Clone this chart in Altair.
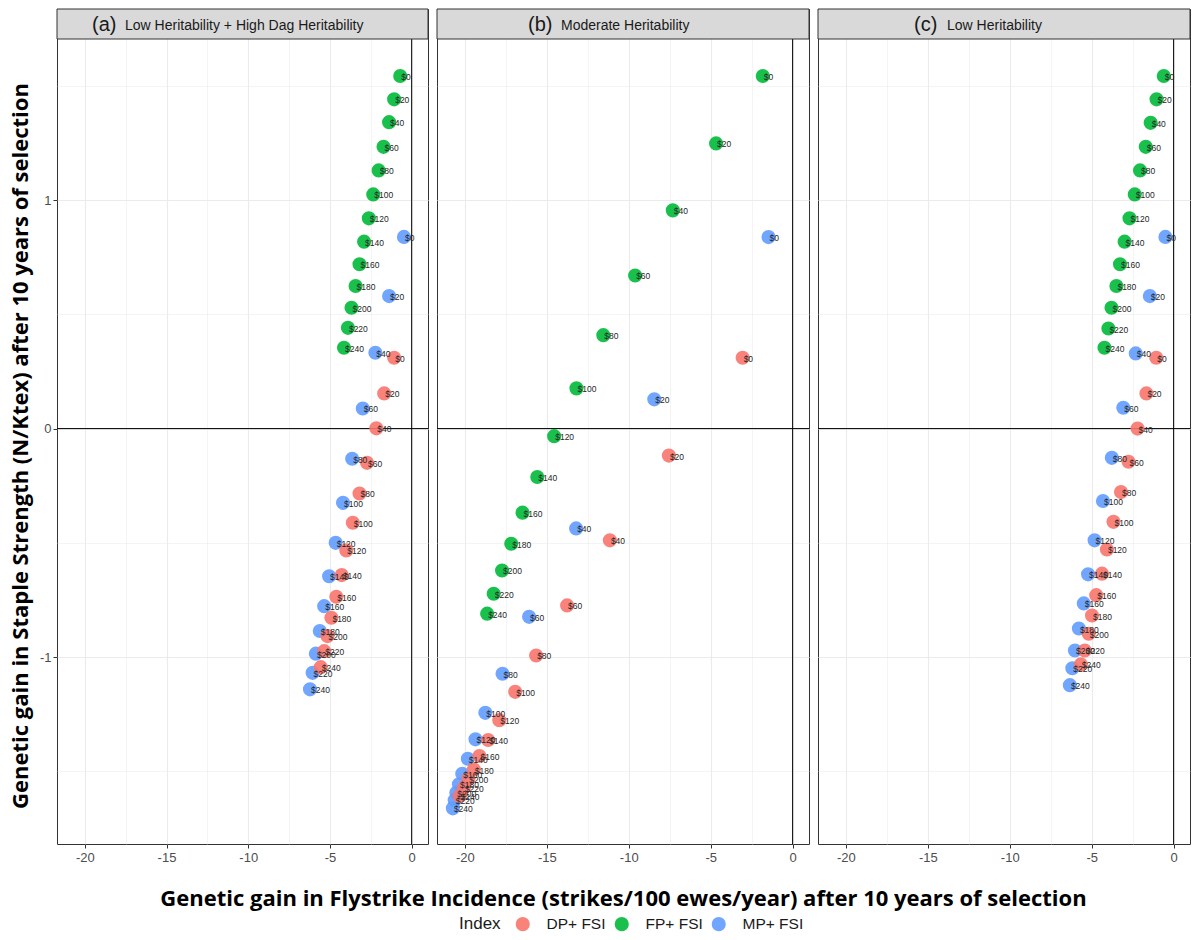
import altair as alt
import pandas as pd

costs = ["$0", "$20", "$40", "$60", "$80", "$100", "$120", "$140", "$160", "$180", "$200", "$220", "$240"]
index_names = ["DP+ FSI", "FP+ FSI", "MP+ FSI"]
index_colors = ["#F8766D", "#00BA38", "#619CFF"]

panel_tags = ["(a)", "(b)", "(c)"]
panel_names = ["Low Heritability + High Dag Heritability", "Moderate Heritability", "Low Heritability"]

# Panel (a)
a_dp_x = [-1.07, -1.68, -2.16, -2.73, -3.19, -3.60, -4.00, -4.28, -4.61, -4.91, -5.15, -5.35, -5.56]
a_dp_y = [0.310, 0.154, 0.001, -0.150, -0.284, -0.412, -0.533, -0.641, -0.736, -0.828, -0.908, -0.974, -1.044]
a_fp_x = [-0.70, -1.07, -1.38, -1.72, -2.02, -2.35, -2.62, -2.91, -3.19, -3.43, -3.68, -3.90, -4.14]
a_fp_y = [1.543, 1.441, 1.341, 1.233, 1.130, 1.025, 0.920, 0.818, 0.719, 0.624, 0.529, 0.441, 0.354]
a_mp_x = [-0.47, -1.38, -2.22, -2.99, -3.64, -4.20, -4.65, -5.05, -5.35, -5.62, -5.86, -6.06, -6.22]
a_mp_y = [0.839, 0.580, 0.332, 0.088, -0.132, -0.325, -0.500, -0.646, -0.777, -0.886, -0.985, -1.069, -1.141]

# Panel (b)
b_dp_x = [-3.05, -7.55, -11.15, -13.76, -15.65, -16.93, -17.90, -18.58, -19.11, -19.45, -19.79, -20.06, -20.32]
b_dp_y = [0.310, -0.118, -0.489, -0.774, -0.993, -1.152, -1.276, -1.363, -1.433, -1.492, -1.535, -1.572, -1.608]
b_fp_x = [-1.82, -4.67, -7.31, -9.61, -11.55, -13.19, -14.55, -15.58, -16.48, -17.17, -17.73, -18.24, -18.64]
b_fp_y = [1.543, 1.248, 0.955, 0.670, 0.409, 0.176, -0.033, -0.212, -0.368, -0.504, -0.621, -0.723, -0.810]
b_mp_x = [-1.47, -8.44, -13.21, -16.08, -17.70, -18.75, -19.35, -19.82, -20.16, -20.36, -20.52, -20.62, -20.73]
b_mp_y = [0.838, 0.128, -0.437, -0.824, -1.073, -1.244, -1.360, -1.445, -1.511, -1.557, -1.594, -1.626, -1.662]

# Panel (c)
c_dp_x = [-1.06, -1.66, -2.20, -2.75, -3.21, -3.67, -4.07, -4.37, -4.72, -4.98, -5.18, -5.42, -5.66]
c_dp_y = [0.310, 0.154, 0.000, -0.145, -0.278, -0.408, -0.529, -0.635, -0.729, -0.818, -0.898, -0.971, -1.032]
c_fp_x = [-0.60, -1.04, -1.40, -1.70, -2.05, -2.37, -2.69, -2.99, -3.27, -3.49, -3.79, -3.98, -4.22]
c_fp_y = [1.543, 1.441, 1.338, 1.233, 1.130, 1.025, 0.920, 0.818, 0.719, 0.624, 0.529, 0.438, 0.354]
c_mp_x = [-0.50, -1.45, -2.31, -3.07, -3.77, -4.31, -4.82, -5.22, -5.48, -5.78, -6.02, -6.18, -6.33]
c_mp_y = [0.839, 0.580, 0.329, 0.091, -0.128, -0.317, -0.489, -0.638, -0.765, -0.875, -0.971, -1.049, -1.123]

x_ticks = [-20, -17.5, -15, -12.5, -10, -7.5, -5, -2.5, 0]
y_ticks = [-1.5, -1, -0.5, 0, 0.5, 1, 1.5]

panels = [
    {"dp": (a_dp_x, a_dp_y), "fp": (a_fp_x, a_fp_y), "mp": (a_mp_x, a_mp_y)},
    {"dp": (b_dp_x, b_dp_y), "fp": (b_fp_x, b_fp_y), "mp": (b_mp_x, b_mp_y)},
    {"dp": (c_dp_x, c_dp_y), "fp": (c_fp_x, c_fp_y), "mp": (c_mp_x, c_mp_y)},
]

STRIP_H = 30
PLOT_H = 805
TOTAL_H = STRIP_H + PLOT_H
X_DOMAIN = [-21.7, 1.0]
# plot-area domain is [-1.818, 1.705]; the strip sits in the top 30 px above it
Y_DOMAIN = [-1.818, 1.705 + (1.705 + 1.818) * STRIP_H / PLOT_H]
widths = [371, 372, 372]
tag_pos = [(35, 68), (91, 124), (96, 129)]

AXIS_FONT = "Liberation Sans"
TITLE_FONT = "Open Sans"


def panel_df(p):
    rows = []
    # draw order: MP, FP, DP (DP on top)
    for key, name in (("mp", "MP+ FSI"), ("fp", "FP+ FSI"), ("dp", "DP+ FSI")):
        xs, ys = p[key]
        for c, xv, yv in zip(costs, xs, ys):
            rows.append({"Index": name, "cost": c, "x": xv, "y": yv})
    return pd.DataFrame(rows)


def x_axis(title):
    kw = dict(
        values=x_ticks,
        labelExpr="datum.value % 5 === 0 ? '' + datum.value : ''",
        grid=True,
        gridColor="#ebebeb",
        gridWidth={"condition": {"test": "datum.value % 5 !== 0", "value": 0.55}, "value": 1.1},
        tickOpacity={"condition": {"test": "datum.value % 5 !== 0", "value": 0}, "value": 1},
        tickColor="#333333",
        tickSize=4,
        labelPadding=3,
        labelFont=AXIS_FONT,
        labelFontSize=13,
        labelColor="#4d4d4d",
        domain=False,
    )
    if title:
        kw.update(title=title, titleFont=TITLE_FONT, titleFontSize=22, titleFontWeight="bold",
                  titleColor="#000000", titlePadding=24)
    else:
        kw.update(title=None)
    return alt.Axis(**kw)


def y_axis(show):
    common = dict(
        values=y_ticks,
        grid=True,
        gridColor="#ebebeb",
        gridWidth={"condition": {"test": "datum.value % 1 !== 0", "value": 0.55}, "value": 1.1},
        domain=False,
    )
    if show:
        return alt.Axis(
            labelExpr="datum.value % 1 === 0 ? '' + datum.value : ''",
            tickOpacity={"condition": {"test": "datum.value % 1 !== 0", "value": 0}, "value": 1},
            tickColor="#333333",
            tickSize=4,
            labelPadding=2,
            labelFont=AXIS_FONT,
            labelFontSize=13,
            labelColor="#4d4d4d",
            title="Genetic gain in Staple Strength (N/Ktex) after 10 years of selection",
            titleFont=TITLE_FONT,
            titleFontSize=22,
            titleFontWeight="bold",
            titleColor="#000000",
            titlePadding=7,
            titleY=STRIP_H + PLOT_H / 2 + 4,
            **common,
        )
    return alt.Axis(labels=False, ticks=False, title=None, **common)


legend = alt.Legend(
    orient="none",
    legendX=402,
    legendY=907,
    direction="horizontal",
    title="Index",
    titleOrient="left",
    titleFont=AXIS_FONT,
    titleFontSize=17,
    titleFontWeight="normal",
    titleColor="#1a1a1a",
    titlePadding=14,
    labelFont=AXIS_FONT,
    labelFontSize=15.5,
    labelColor="#1a1a1a",
    labelOffset=16,
    columnPadding=8,
    symbolType="circle",
    symbolSize=200,
    symbolOpacity=0.9,
    symbolStrokeWidth=0,
)

panels_out = []
for i, p in enumerate(panels):
    df = panel_df(p)
    w = widths[i]
    xtitle = "Genetic gain in Flystrike Incidence (strikes/100 ewes/year) after 10 years of selection" if i == 1 else None
    xenc = alt.X("x:Q", scale=alt.Scale(domain=X_DOMAIN, nice=False, zero=False), axis=x_axis(xtitle))
    yenc = alt.Y("y:Q", scale=alt.Scale(domain=Y_DOMAIN, nice=False, zero=False), axis=y_axis(i == 0))

    base = alt.Chart(df)
    pts = base.mark_circle(size=200, opacity=0.9).encode(
        x=xenc,
        y=yenc,
        color=alt.Color("Index:N", scale=alt.Scale(domain=index_names, range=index_colors), legend=legend),
    )
    lbl = base.mark_text(align="left", baseline="middle", dx=1, dy=1, fontSize=8.5,
                         font=AXIS_FONT, color="#262626").encode(
        x="x:Q", y="y:Q", text="cost:N"
    )
    zero_df = pd.DataFrame({"z": [0]})
    hline = alt.Chart(zero_df).mark_rule(color="#000000", strokeWidth=1).encode(y=alt.datum(0))
    vline = alt.Chart(zero_df).mark_rule(color="#000000", strokeWidth=1).encode(x=alt.datum(0))

    sdf = pd.DataFrame({"tag": [panel_tags[i]], "name": [panel_names[i]]})
    sbase = alt.Chart(sdf)
    srect = sbase.mark_rect(fill="#d9d9d9", stroke="#333333", strokeWidth=1).encode(
        x=alt.value(0), x2=alt.value(w), y=alt.value(0), y2=alt.value(STRIP_H))
    t1 = sbase.mark_text(align="left", baseline="middle", fontSize=20, font=AXIS_FONT, color="#1a1a1a").encode(
        x=alt.value(tag_pos[i][0]), y=alt.value(16), text="tag:N")
    t2 = sbase.mark_text(align="left", baseline="middle", fontSize=14, font=AXIS_FONT, color="#1a1a1a").encode(
        x=alt.value(tag_pos[i][1]), y=alt.value(17), text="name:N")

    panels_out.append(
        alt.layer(hline, vline, pts, lbl, srect, t1, t2).properties(width=w, height=TOTAL_H)
    )

chart = alt.hconcat(*panels_out, spacing=9, bounds="flush").resolve_scale(color="shared").resolve_legend(
    color="shared"
).properties(padding=0).configure_view(stroke="#333333", strokeWidth=1)

chart.save("out.html", embed_options={"renderer": "svg", "actions": False})
